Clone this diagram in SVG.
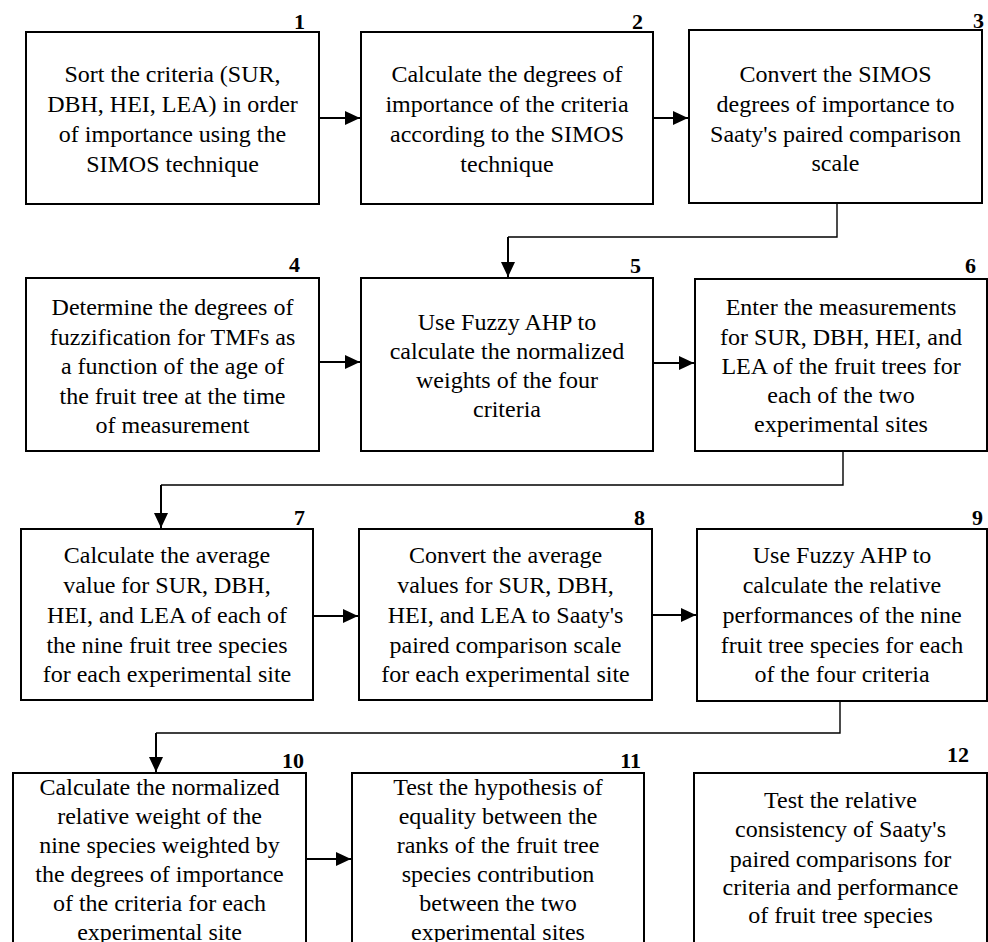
<svg xmlns="http://www.w3.org/2000/svg" width="988" height="942" viewBox="0 0 988 942">
<defs>
<style>
.box{fill:#fff;stroke:#000;stroke-width:2}
.t{font-family:'Liberation Serif','Times New Roman',Times,serif;font-size:24px;fill:#000;text-anchor:middle}
.n{font-family:'Liberation Serif','Times New Roman',Times,serif;font-size:22px;font-weight:700;fill:#000;text-anchor:end}
.c{fill:none;stroke:#000;stroke-width:2}
.e{fill:none;stroke:#000;stroke-width:1.4}
</style>
<marker id="ah" markerWidth="15" markerHeight="14" refX="15" refY="7" orient="auto" markerUnits="userSpaceOnUse">
<path d="M0,0 L15,7 L0,14 Z" fill="#000"/>
</marker>
</defs>
<rect width="988" height="942" fill="#fff"/>
<g id="connectors">
<line class="c" x1="319" y1="118" x2="360" y2="118" marker-end="url(#ah)"/>
<line class="c" x1="653" y1="118" x2="688" y2="118" marker-end="url(#ah)"/>
<polyline class="e" points="837,204 837,237 508,237"/>
<line class="c" x1="508" y1="237" x2="508" y2="277" marker-end="url(#ah)"/>
<line class="c" x1="319" y1="362" x2="360" y2="362" marker-end="url(#ah)"/>
<line class="c" x1="653" y1="363" x2="694" y2="363" marker-end="url(#ah)"/>
<polyline class="e" points="843,451 843,485 161,485"/>
<line class="c" x1="161" y1="485" x2="161" y2="528" marker-end="url(#ah)"/>
<line class="c" x1="313" y1="616" x2="358" y2="616" marker-end="url(#ah)"/>
<line class="c" x1="652" y1="615" x2="696" y2="615" marker-end="url(#ah)"/>
<polyline class="e" points="840,701 840,733 156,733"/>
<line class="c" x1="156" y1="733" x2="156" y2="772" marker-end="url(#ah)"/>
<line class="c" x1="306" y1="859" x2="351" y2="859" marker-end="url(#ah)"/>
</g>
<g id="node1">
<rect class="box" x="26" y="32" width="293" height="172"/>
<text class="n" x="305" y="29">1</text>
<text class="t" x="172.5" y="82">Sort the criteria (SUR,</text>
<text class="t" x="172.5" y="112">DBH, HEI, LEA) in order</text>
<text class="t" x="172.5" y="142">of importance using the</text>
<text class="t" x="172.5" y="172">SIMOS technique</text>
</g>
<g id="node2">
<rect class="box" x="361" y="32" width="292" height="172"/>
<text class="n" x="643" y="29">2</text>
<text class="t" x="507" y="82">Calculate the degrees of</text>
<text class="t" x="507" y="112">importance of the criteria</text>
<text class="t" x="507" y="142">according to the SIMOS</text>
<text class="t" x="507" y="172">technique</text>
</g>
<g id="node3">
<rect class="box" x="689" y="30" width="293" height="173"/>
<text class="n" x="984" y="28">3</text>
<text class="t" x="835.5" y="82">Convert the SIMOS</text>
<text class="t" x="835.5" y="112">degrees of importance to</text>
<text class="t" x="835.5" y="142">Saaty's paired comparison</text>
<text class="t" x="835.5" y="171">scale</text>
</g>
<g id="node4">
<rect class="box" x="26" y="278" width="293" height="173"/>
<text class="n" x="300" y="272">4</text>
<text class="t" x="172.5" y="315">Determine the degrees of</text>
<text class="t" x="172.5" y="345">fuzzification for TMFs as</text>
<text class="t" x="172.5" y="374">a function of the age of</text>
<text class="t" x="172.5" y="404">the fruit tree at the time</text>
<text class="t" x="172.5" y="433">of measurement</text>
</g>
<g id="node5">
<rect class="box" x="361" y="278" width="292" height="173"/>
<text class="n" x="641" y="273">5</text>
<text class="t" x="507" y="330">Use Fuzzy AHP to</text>
<text class="t" x="507" y="359">calculate the normalized</text>
<text class="t" x="507" y="388">weights of the four</text>
<text class="t" x="507" y="417">criteria</text>
</g>
<g id="node6">
<rect class="box" x="695" y="279" width="292" height="172"/>
<text class="n" x="976" y="273">6</text>
<text class="t" x="841" y="315">Enter the measurements</text>
<text class="t" x="841" y="345">for SUR, DBH, HEI, and</text>
<text class="t" x="841" y="374">LEA of the fruit trees for</text>
<text class="t" x="841" y="403">each of the two</text>
<text class="t" x="841" y="432">experimental sites</text>
</g>
<g id="node7">
<rect class="box" x="21" y="529" width="292" height="171"/>
<text class="n" x="305" y="525">7</text>
<text class="t" x="167" y="563">Calculate the average</text>
<text class="t" x="167" y="593">value for SUR, DBH,</text>
<text class="t" x="167" y="623">HEI, and LEA of each of</text>
<text class="t" x="167" y="653">the nine fruit tree species</text>
<text class="t" x="167" y="682">for each experimental site</text>
</g>
<g id="node8">
<rect class="box" x="359" y="529" width="293" height="171"/>
<text class="n" x="645" y="525">8</text>
<text class="t" x="505.5" y="563">Convert the average</text>
<text class="t" x="505.5" y="593">values for SUR, DBH,</text>
<text class="t" x="505.5" y="623">HEI, and LEA to Saaty's</text>
<text class="t" x="505.5" y="653">paired comparison scale</text>
<text class="t" x="505.5" y="682">for each experimental site</text>
</g>
<g id="node9">
<rect class="box" x="697" y="529" width="290" height="172"/>
<text class="n" x="983" y="525">9</text>
<text class="t" x="842" y="563">Use Fuzzy AHP to</text>
<text class="t" x="842" y="593">calculate the relative</text>
<text class="t" x="842" y="623">performances of the nine</text>
<text class="t" x="842" y="653">fruit tree species for each</text>
<text class="t" x="842" y="682">of the four criteria</text>
</g>
<g id="node10">
<rect class="box" x="13" y="773" width="293" height="180"/>
<text class="n" x="304" y="768">10</text>
<text class="t" x="159.5" y="795">Calculate the normalized</text>
<text class="t" x="159.5" y="824">relative weight of the</text>
<text class="t" x="159.5" y="853">nine species weighted by</text>
<text class="t" x="159.5" y="882">the degrees of importance</text>
<text class="t" x="159.5" y="911">of the criteria for each</text>
<text class="t" x="159.5" y="940">experimental site</text>
</g>
<g id="node11">
<rect class="box" x="352" y="773" width="292" height="180"/>
<text class="n" x="641" y="768">11</text>
<text class="t" x="498" y="795">Test the hypothesis of</text>
<text class="t" x="498" y="824">equality between the</text>
<text class="t" x="498" y="853">ranks of the fruit tree</text>
<text class="t" x="498" y="882">species contribution</text>
<text class="t" x="498" y="911">between the two</text>
<text class="t" x="498" y="940">experimental sites</text>
</g>
<g id="node12">
<rect class="box" x="694" y="773" width="293" height="180"/>
<text class="n" x="969" y="762">12</text>
<text class="t" x="840.5" y="808">Test the relative</text>
<text class="t" x="840.5" y="837">consistency of Saaty's</text>
<text class="t" x="840.5" y="867">paired comparisons for</text>
<text class="t" x="840.5" y="895">criteria and performance</text>
<text class="t" x="840.5" y="923">of fruit tree species</text>
</g>
</svg>
